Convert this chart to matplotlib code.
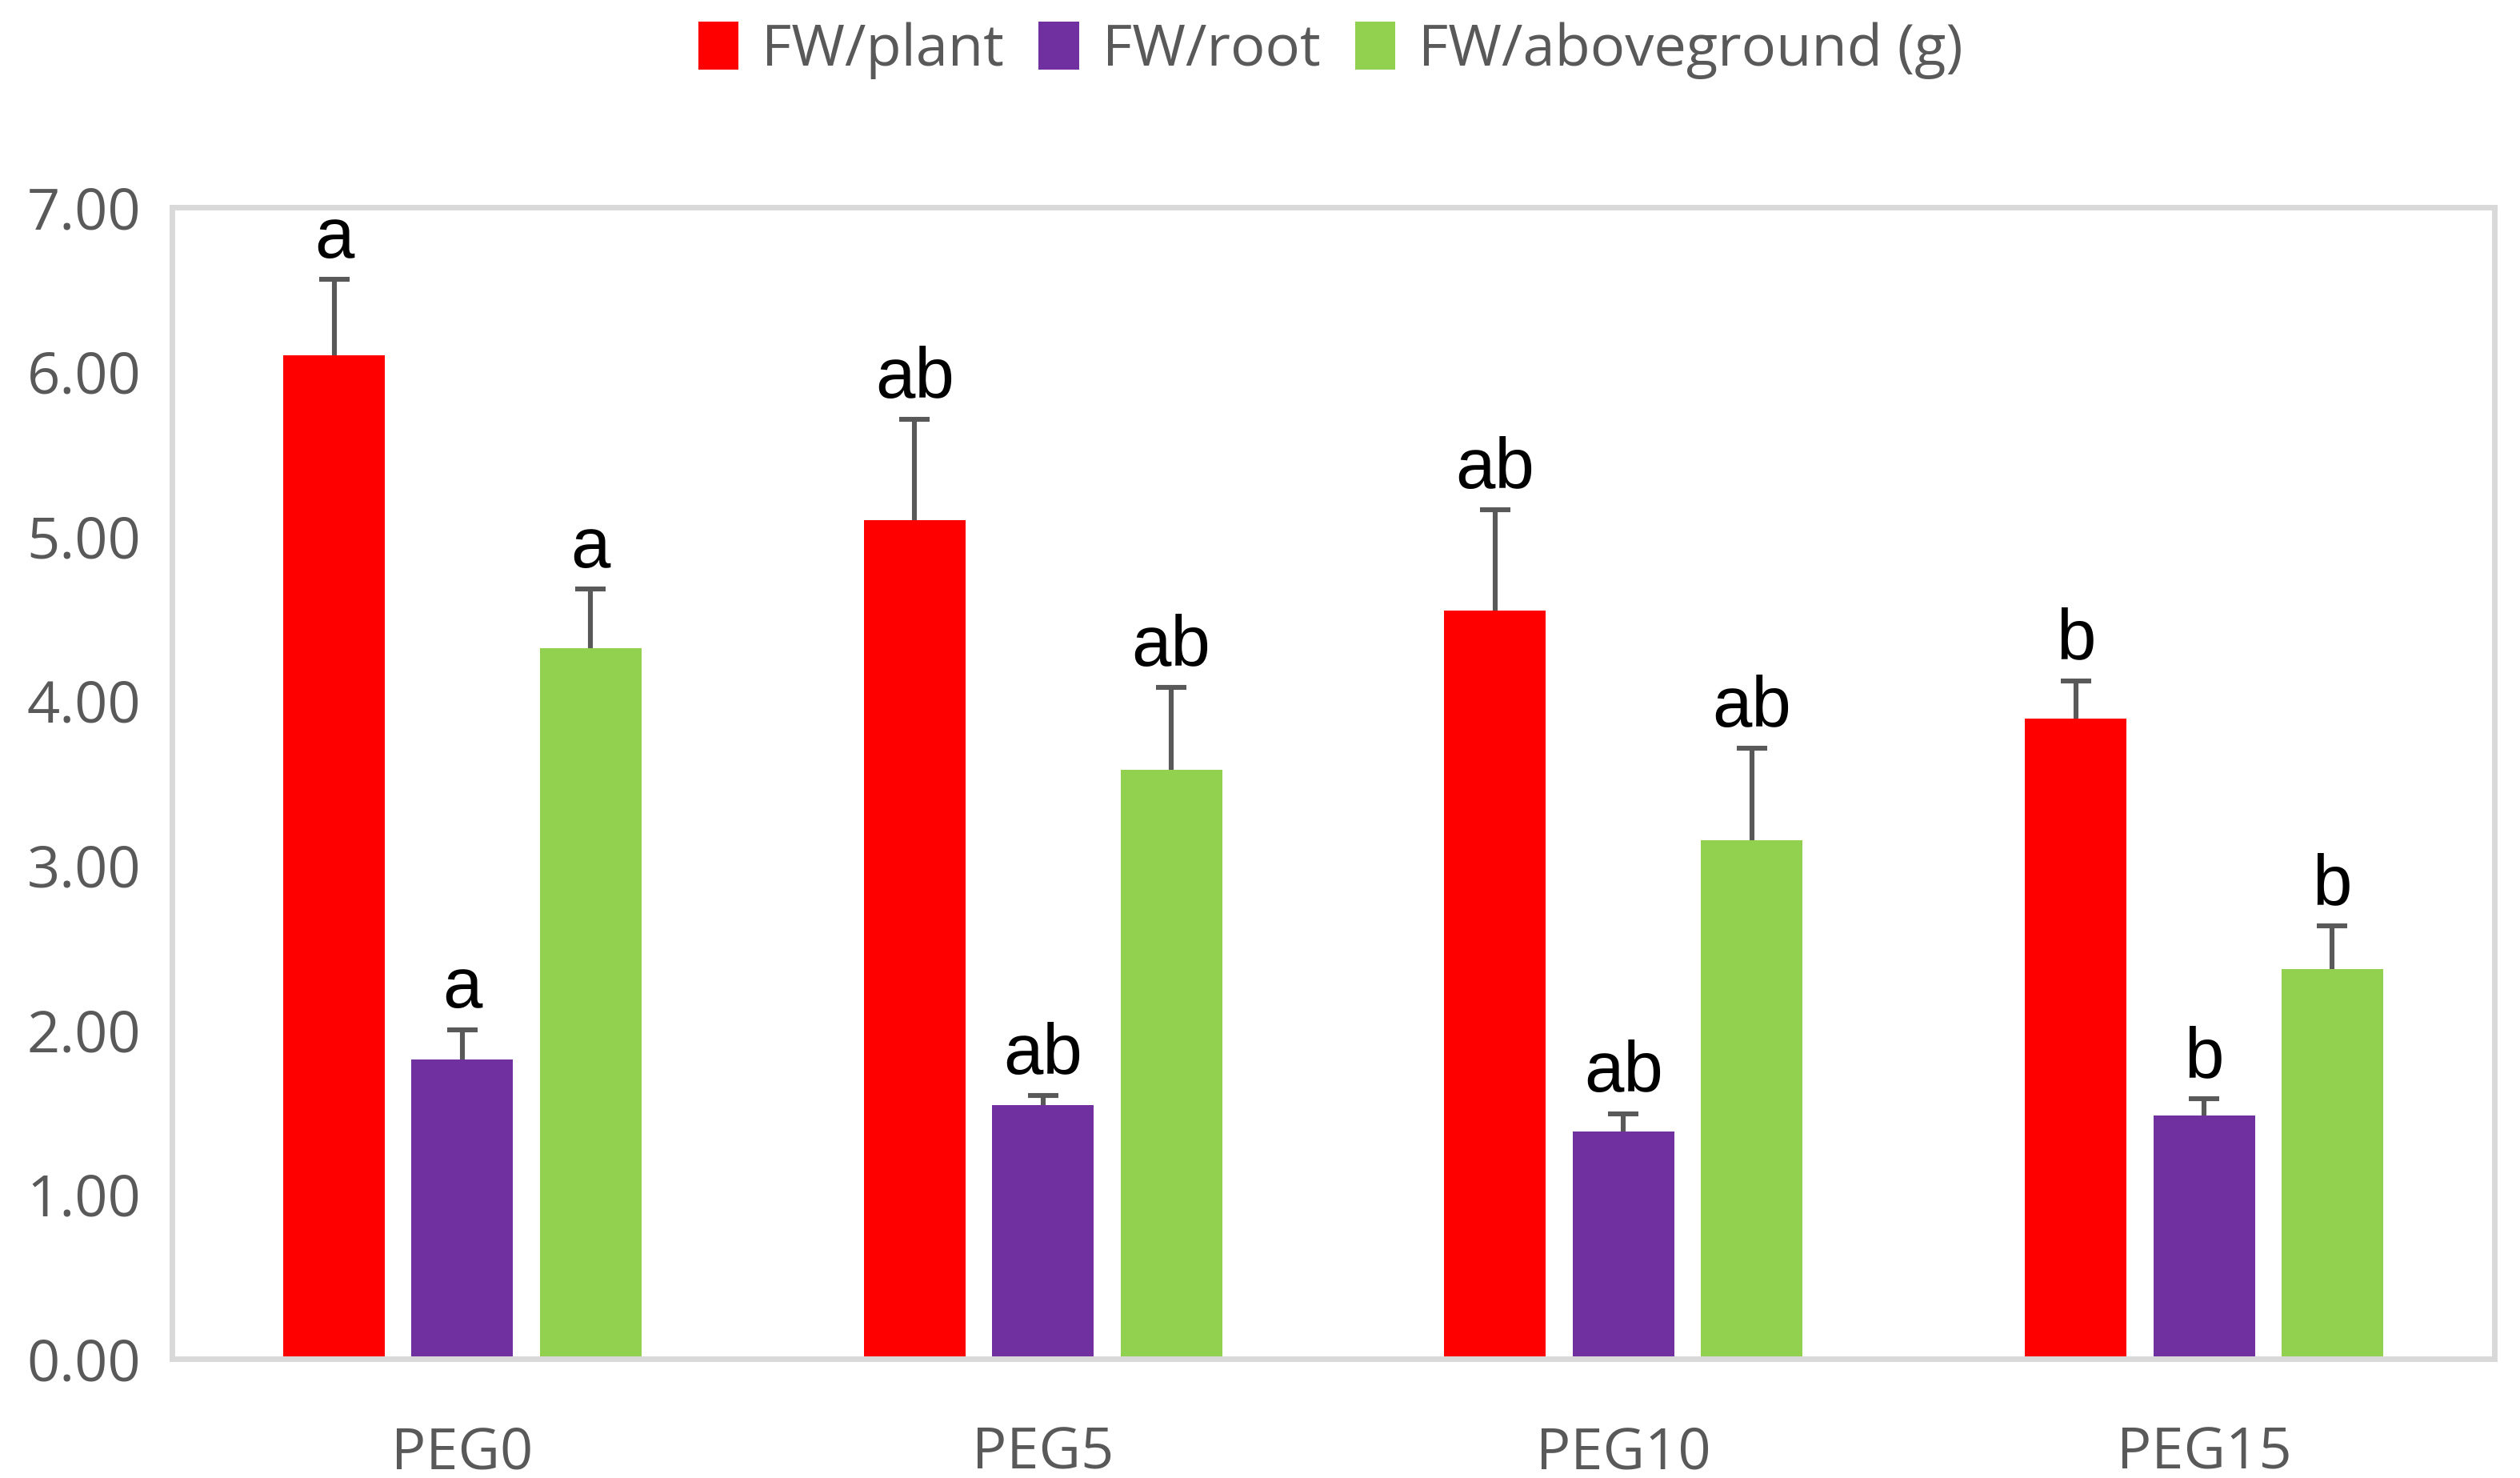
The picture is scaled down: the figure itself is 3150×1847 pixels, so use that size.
import matplotlib.pyplot as plt
import numpy as np

groups = ['PEG0', 'PEG5', 'PEG10', 'PEG15']
series = ['FW/plant', 'FW/root', 'FW/aboveground (g)']
colors = ['#FF0000', '#7030A0', '#92D050']

plant = [6.10, 5.10, 4.55, 3.89]
plant_err = [0.46, 0.61, 0.61, 0.23]
root = [1.82, 1.54, 1.38, 1.48]
root_err = [0.18, 0.06, 0.11, 0.10]
above = [4.32, 3.58, 3.15, 2.37]
above_err = [0.36, 0.50, 0.56, 0.26]

plant_lab = ['a', 'ab', 'ab', 'b']
root_lab = ['a', 'ab', 'ab', 'b']
above_lab = ['a', 'ab', 'ab', 'b']

vals = [plant, root, above]
errs = [plant_err, root_err, above_err]
labs = [plant_lab, root_lab, above_lab]

fig = plt.figure(figsize=(15.75, 9.235), dpi=200)
ax = fig.add_axes([0.0683, 0.0807, 0.9215, 0.7791])

x = np.arange(len(groups))
w = 0.175
step = 0.221
for i in range(3):
    xs = x + (i - 1) * step
    ax.bar(xs, vals[i], w, color=colors[i], label=series[i], zorder=2)
    eb = ax.errorbar(xs, vals[i], yerr=[np.zeros(4), errs[i]], fmt='none',
                     ecolor='#595959', elinewidth=2.2, capsize=7, capthick=2.2, zorder=3)
    # only the upper cap
    eb[1][0].set_visible(False)
    for xi, v, e, l in zip(xs, vals[i], errs[i], labs[i]):
        ax.annotate(l, (xi, v + e), xytext=(0, 3), textcoords='offset points',
                    ha='center', va='bottom', fontsize=32,
                    family='Liberation Sans', color='black')

ax.set_xlim(-0.5, 3.5)
ax.set_ylim(0, 7)
ax.set_yticks(np.arange(0, 7.01, 1))
ax.set_yticklabels(['%.2f' % t for t in np.arange(0, 7.01, 1)])
ax.set_xticks(x)
ax.set_xticklabels(groups)
ax.tick_params(length=0, labelsize=26, labelcolor='#595959', pad=14)
for lbl in ax.get_xticklabels() + ax.get_yticklabels():
    lbl.set_family('Open Sans')
ax.tick_params(axis='x', pad=30)
for s in ax.spines.values():
    s.set_color('#D9D9D9')
    s.set_linewidth(2.5)

leg = fig.legend(loc='center', bbox_to_anchor=(0.528, 0.966), ncol=3, frameon=False,
                 prop={'family': 'Open Sans', 'size': 26}, handlelength=0.7,
                 handleheight=0.9, handletextpad=0.4, columnspacing=0.6)
for t in leg.get_texts():
    t.set_color('#595959')

fig.savefig('out.png', dpi=200)
